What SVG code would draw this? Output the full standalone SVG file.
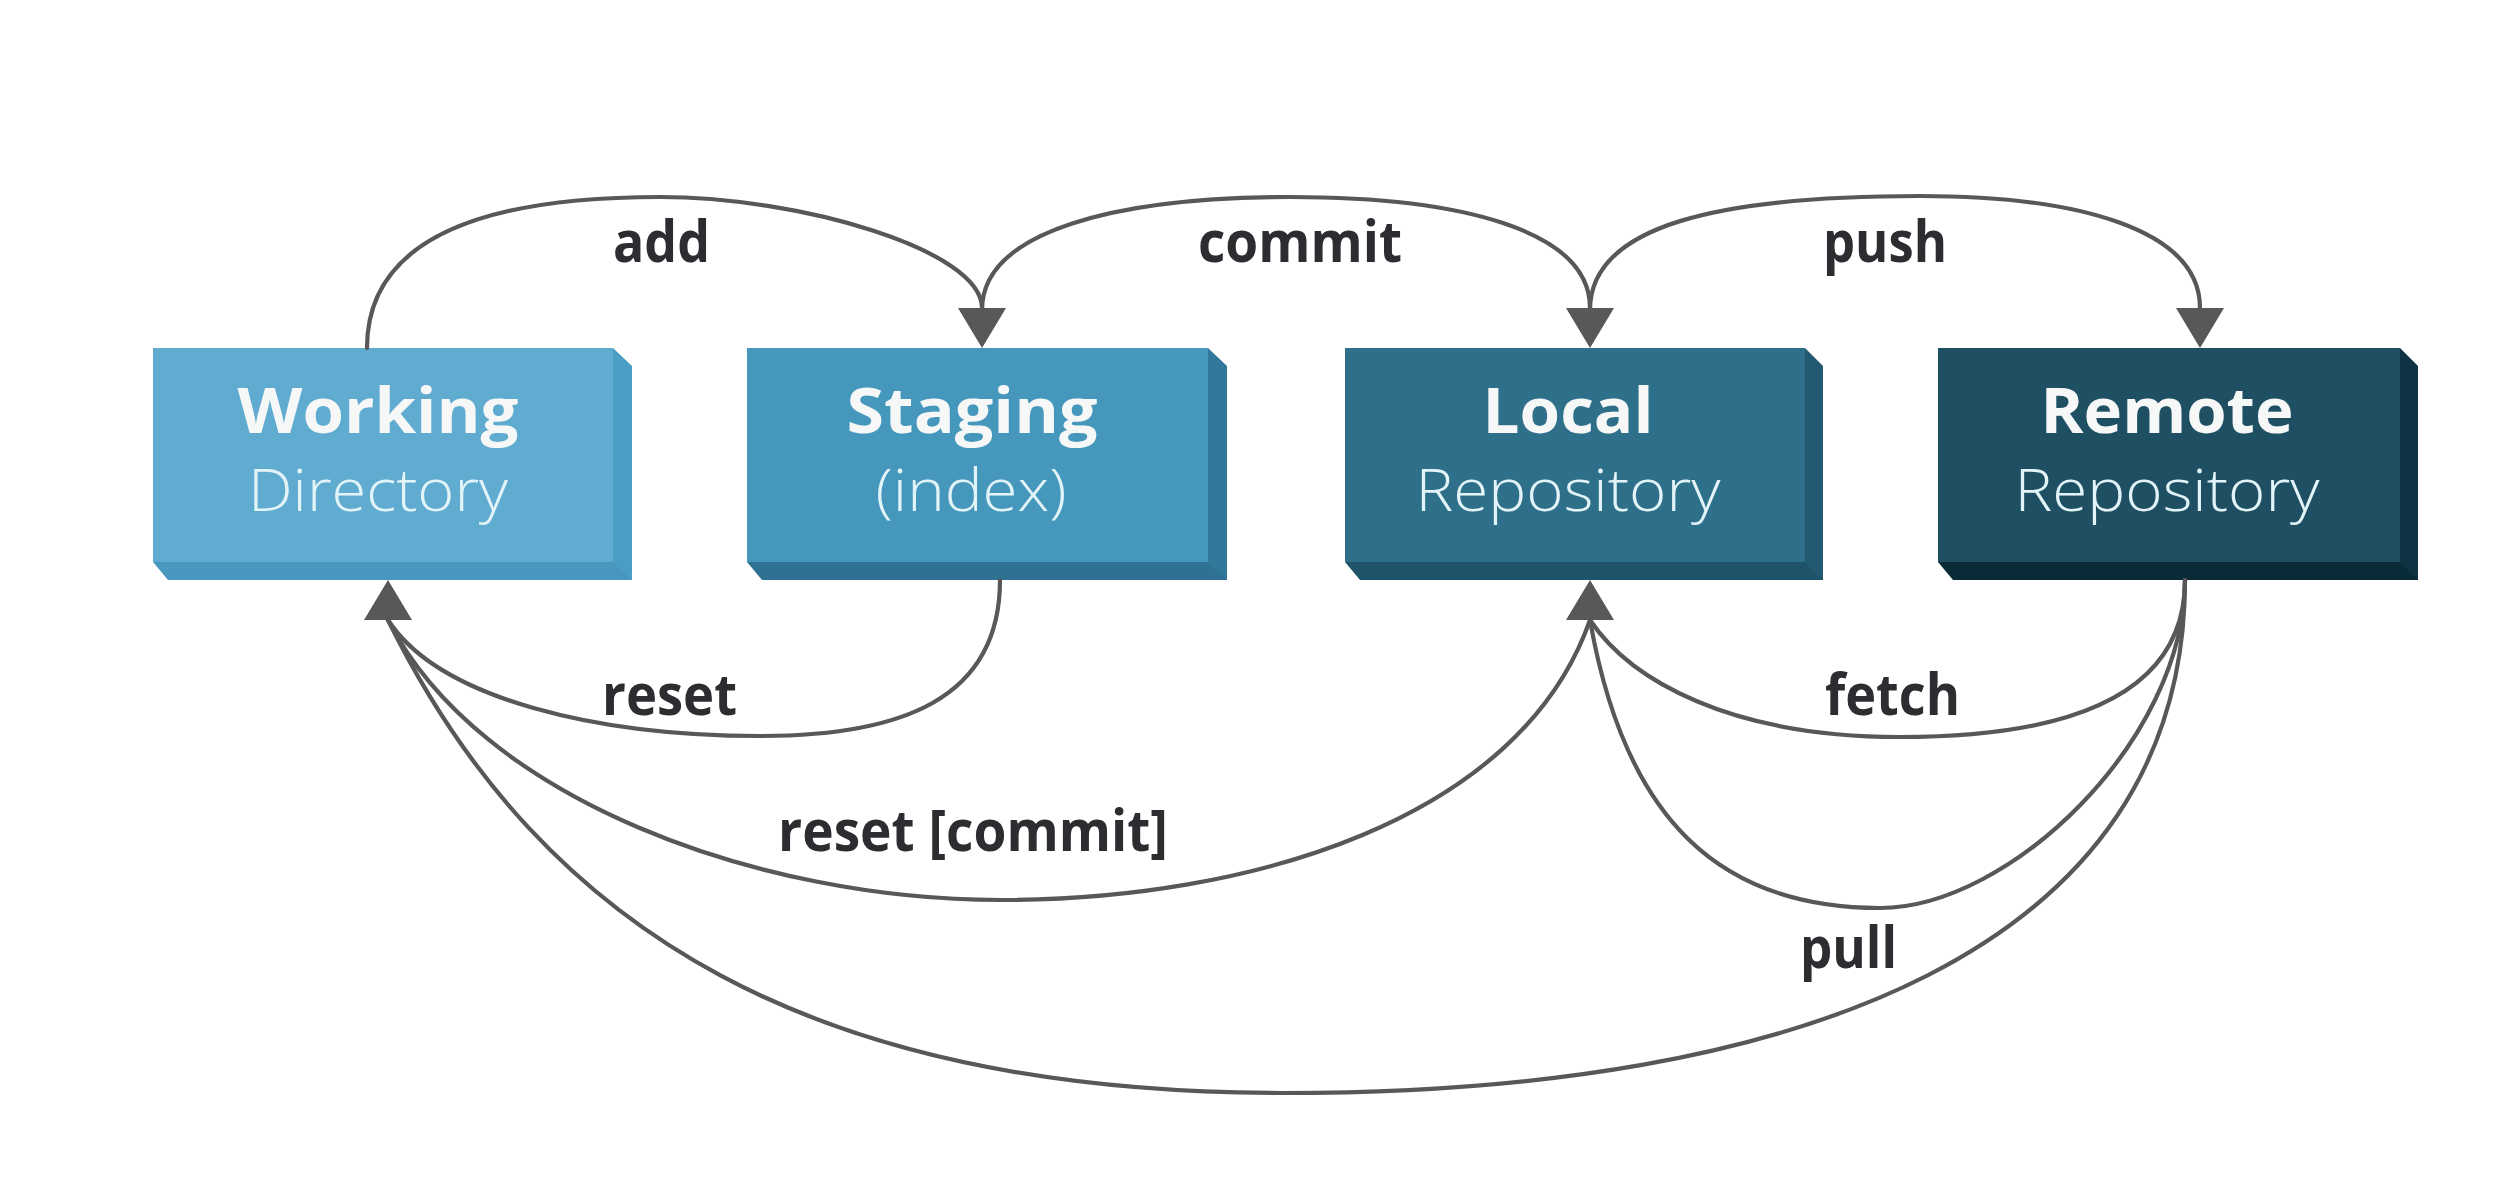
<svg xmlns="http://www.w3.org/2000/svg" xmlns:xlink="http://www.w3.org/1999/xlink" width="2500" height="1200" viewBox="0 0 2500 1200">
<style>
.title{font-family:"Open Sans","Liberation Sans",sans-serif;font-weight:700;font-size:62px;fill:#f6f7f7;text-anchor:middle}
.sub{font-family:"Open Sans","Liberation Sans",sans-serif;font-weight:300;font-size:58px;fill:#e2f4f8;text-anchor:middle}
.lbl{font-family:"Open Sans","Liberation Sans",sans-serif;font-weight:700;font-size:57px;fill:#2c2d30}
.conn{fill:none;stroke:#58585b;stroke-width:4.2;stroke-linecap:round}
.head{fill:#58585b}
</style>
<defs>
<path id="ahDown" d="M-24,-40 L24,-40 L0,0 Z"/>
<path id="ahUp" d="M-24,40 L24,40 L0,0 Z"/>
</defs>
<rect x="0" y="0" width="2500" height="1200" fill="#ffffff"/>

<g id="node-working">
<rect x="153" y="348" width="460" height="214" fill="#60acd0"/>
<polygon points="613,348 632,366 632,580 613,580" fill="#4b9dc3"/>
<polygon points="153,562 613,562 632,580 168,580" fill="#4897be"/>
<text class="title" x="378" y="433" textLength="281" lengthAdjust="spacingAndGlyphs">Working</text>
<text class="sub" x="378" y="511" textLength="260" lengthAdjust="spacingAndGlyphs">Directory</text>
</g>

<g id="node-staging">
<rect x="747" y="348" width="461" height="214" fill="#4598bc"/>
<polygon points="1208,348 1227,366 1227,580 1208,580" fill="#31789a"/>
<polygon points="747,562 1208,562 1227,580 762,580" fill="#2f7192"/>
<text class="title" x="972" y="433" textLength="251" lengthAdjust="spacingAndGlyphs">Staging</text>
<text class="sub" x="971" y="511" textLength="191" lengthAdjust="spacingAndGlyphs">(index)</text>
</g>

<g id="node-local">
<rect x="1345" y="348" width="460" height="214" fill="#2e6f8a"/>
<polygon points="1805,348 1823,366 1823,580 1805,580" fill="#245a71"/>
<polygon points="1345,562 1805,562 1823,580 1360,580" fill="#1f5369"/>
<text class="title" x="1568" y="433" textLength="171" lengthAdjust="spacingAndGlyphs">Local</text>
<text class="sub" x="1568" y="511" textLength="305" lengthAdjust="spacingAndGlyphs">Repository</text>
</g>

<g id="node-remote">
<rect x="1938" y="348" width="462" height="214" fill="#1e4f63"/>
<polygon points="2400,348 2418,366 2418,580 2400,580" fill="#0e3342"/>
<polygon points="1938,562 2400,562 2418,580 1953,580" fill="#092b38"/>
<text class="title" x="2167" y="433" textLength="253" lengthAdjust="spacingAndGlyphs">Remote</text>
<text class="sub" x="2167" y="511" textLength="305" lengthAdjust="spacingAndGlyphs">Repository</text>
</g>

<g id="connectors">
<path id="c-add" class="conn" d="M367,348 C367,240 480,197 660,197 C800,197 982,250 982,308"/>
<path id="c-commit" class="conn" d="M982,310 C982,230 1120,197 1290,197 C1460,197 1590,230 1590,308"/>
<path id="c-push" class="conn" d="M1590,310 C1590,225 1720,196 1920,196 C2080,196 2200,230 2200,308"/>
<path id="c-reset" class="conn" d="M1000,580 C1000,700 900,736 760,736 C600,736 440,700 388,620"/>
<path id="c-reset-commit" class="conn" d="M1590,620 C1520,820 1250,900 1000,900 C760,900 480,800 388,620"/>
<path id="c-pull-working" class="conn" d="M2185,580 C2185,950 1800,1093 1283,1093 C820,1093 544,937 388,620"/>
<path id="c-fetch" class="conn" d="M2185,580 C2185,700 2060,737 1900,737 C1730,737 1630,680 1590,620"/>
<path id="c-pull-local" class="conn" d="M2185,580 C2185,740 2010,908 1880,908 C1720,908 1625,820 1590,620"/>
<use xlink:href="#ahDown" class="head" x="982" y="348"/>
<use xlink:href="#ahDown" class="head" x="1590" y="348"/>
<use xlink:href="#ahDown" class="head" x="2200" y="348"/>
<use xlink:href="#ahUp" class="head" x="388" y="580"/>
<use xlink:href="#ahUp" class="head" x="1590" y="580"/>
<text class="lbl" x="613" y="262" textLength="97" lengthAdjust="spacingAndGlyphs">add</text>
<text class="lbl" x="1198" y="262" textLength="204" lengthAdjust="spacingAndGlyphs">commit</text>
<text class="lbl" x="1823" y="262" textLength="124" lengthAdjust="spacingAndGlyphs">push</text>
<text class="lbl" x="602" y="715" textLength="135" lengthAdjust="spacingAndGlyphs">reset</text>
<text class="lbl" x="1825" y="715" textLength="135" lengthAdjust="spacingAndGlyphs">fetch</text>
<text class="lbl" x="778" y="851" textLength="390" lengthAdjust="spacingAndGlyphs">reset [commit]</text>
<text class="lbl" x="1800" y="968" textLength="97" lengthAdjust="spacingAndGlyphs">pull</text>
</g>
</svg>
